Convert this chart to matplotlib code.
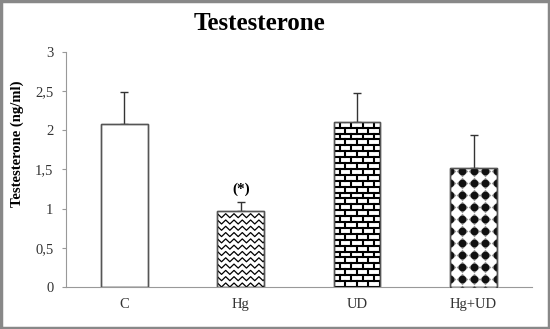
import numpy as np
import matplotlib
matplotlib.use('Agg')
import matplotlib.pyplot as plt
from matplotlib.patches import Rectangle
from matplotlib.transforms import IdentityTransform

groups = ['C', 'Hg', 'UD', 'Hg+UD']
means = [2.08, 0.97, 2.11, 1.52]
sd_up = [0.41, 0.115, 0.36, 0.425]
y_ticks = [0, 0.5, 1, 1.5, 2, 2.5, 3]
y_tick_labels = ['0', '0,5', '1', '1,5', '2', '2,5', '3']

plt.rcParams['font.family'] = ['Liberation Serif', 'DejaVu Serif']

fig = plt.figure(figsize=(5.5, 3.29), dpi=100)
ax = fig.add_axes([0.12, 0.1277, 0.847, 0.7143])

x = np.arange(len(groups))
bars = ax.bar(x, means, width=0.4, color='white', edgecolor='#555555', linewidth=1.0, zorder=2)
ax.errorbar(x, means, yerr=[np.zeros(len(means)), sd_up], fmt='none',
            ecolor='#333333', elinewidth=1.0, capsize=3, capthick=1.0, zorder=1)

ax.set_xlim(-0.5, 3.5)
ax.set_ylim(0, 3)
ax.set_yticks(y_ticks)
ax.set_yticklabels(y_tick_labels, fontsize=10.5, color='#333333')
ax.set_xticks(x)
ax.set_xticklabels(groups, fontsize=10.5, color='#333333')
ax.tick_params(axis='x', length=0, pad=8)
ax.tick_params(axis='y', length=3, color='#999999', pad=6)
for s in ['top', 'right']:
    ax.spines[s].set_visible(False)
ax.spines['left'].set_color('#999999')
ax.spines['bottom'].set_color('#999999')
ax.set_ylabel('Testesterone (ng/ml)', fontsize=10.5, fontweight='bold', labelpad=7)
ax.yaxis.set_label_coords(-0.09, 0.61)
fig.text(0.471, 0.965, 'Testesterone', fontsize=18, fontweight='bold', ha='center', va='top')

ax.text(x[1], means[1] + sd_up[1] + 0.08, '(*)', ha='center', va='bottom', fontsize=11, fontweight='bold')

fig.canvas.draw()

# patterns drawn in pixel coordinates, clipped to each bar
def bbox_of(bar):
    bb = bar.get_window_extent()
    return bb.x0, bb.y0, bb.x1, bb.y1

# Hg: zigzag
x0, y0, x1, y1 = bbox_of(bars[1])
period, amp, step = 8.3, 2.0, 6.3
xs = np.arange(x0 - period, x1 + period, period / 2)
for yy in np.arange(y0 + 2, y1 + step, step):
    ys = yy + amp * np.where(np.arange(len(xs)) % 2 == 0, 1, -1)
    ln = ax.plot(xs, ys, color='black', lw=0.9, transform=IdentityTransform(), zorder=3)[0]
    ln.set_clip_path(bars[1])

# UD: brick
x0, y0, x1, y1 = bbox_of(bars[2])
rh, bw = 5.9, 11.5
for i, yy in enumerate(np.arange(y0, y1 + rh, rh)):
    ln = ax.plot([x0, x1], [yy, yy], color='black', lw=1.5, transform=IdentityTransform(), zorder=3)[0]
    ln.set_clip_path(bars[2])
    off = 0 if i % 2 == 0 else bw / 2
    for xx in np.arange(x0 - bw + off, x1 + bw, bw):
        ln = ax.plot([xx, xx], [yy, yy + rh], color='black', lw=1.5, transform=IdentityTransform(), zorder=3)[0]
        ln.set_clip_path(bars[2])

# Hg+UD: dots
x0, y0, x1, y1 = bbox_of(bars[3])
gx, gy = 11.7, 12.0
cx = (x0 + x1) / 2
px, py = [], []
for yy in np.arange(y1 - 3, y0 - gy, -gy):
    for xx in np.arange(cx - 4 * gx, cx + 4 * gx, gx):
        px.append(xx)
        py.append(yy)
sc = ax.scatter(px, py, s=30, marker='o', color='black', transform=IdentityTransform(), zorder=3, linewidths=0)
sc.set_clip_path(bars[3])
sc2 = ax.scatter(px, py, s=34, marker='D', color='#222222', transform=IdentityTransform(), zorder=3, linewidths=0, alpha=0.5)
sc2.set_clip_path(bars[3])

# outline bars on top of patterns
for b in bars:
    xb, yb = b.get_xy()
    ax.add_patch(Rectangle((xb, yb), b.get_width(), b.get_height(), fill=False,
                           edgecolor='#555555', lw=1.0, zorder=4))

fig.patches.append(Rectangle((0.002, 0.003), 0.996, 0.994, transform=fig.transFigure,
                             fill=False, edgecolor='#888888', lw=2.5))

fig.savefig('out.png', dpi=100)
